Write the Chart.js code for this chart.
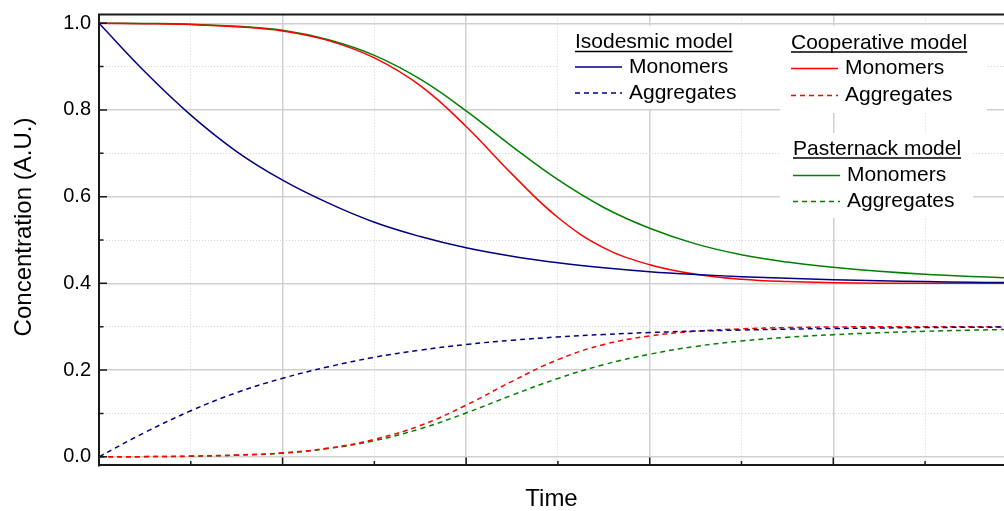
<!DOCTYPE html>
<html>
<head>
<meta charset="utf-8">
<title>Aggregation models</title>
<script src="https://cdn.jsdelivr.net/npm/chart.js@4/dist/chart.umd.min.js"></script>
<style>
  html, body { margin: 0; background: #fff; }
  #wrap { position: relative; width: 1004px; height: 511px; }
</style>
</head>
<body>
<div id="wrap"><canvas id="chart"></canvas></div>
<script>
const FONT = '"Liberation Sans", Arial, sans-serif';
const AXIS = "#1a1a1a";

// time axis (arbitrary units, one major grid step = 1)
const times = [0, 0.25, 0.5, 0.75, 1, 1.25, 1.5, 1.75, 2, 2.25, 2.5, 2.75, 3, 3.25, 3.5, 3.75, 4, 4.25, 4.5, 4.75, 4.93];

const isoMonomers    = [1.0, 0.888, 0.788, 0.704, 0.638, 0.585, 0.541, 0.508, 0.482, 0.4625, 0.4475, 0.436, 0.427, 0.4205, 0.4155, 0.4115, 0.4085, 0.406, 0.404, 0.4026, 0.4018];
const isoAggregates  = [0, 0.056, 0.106, 0.148, 0.181, 0.2075, 0.2295, 0.246, 0.259, 0.2688, 0.2763, 0.282, 0.2865, 0.2898, 0.2923, 0.2943, 0.2958, 0.297, 0.298, 0.2987, 0.2991];
const coopMonomers   = [1.0, 0.999, 0.997, 0.992, 0.982, 0.96, 0.92, 0.856, 0.762, 0.652, 0.552, 0.482, 0.443, 0.421, 0.4095, 0.404, 0.4015, 0.4005, 0.4, 0.4, 0.4];
const coopAggregates = [0, 0.0003, 0.0015, 0.004, 0.009, 0.02, 0.04, 0.072, 0.119, 0.174, 0.224, 0.259, 0.2785, 0.2895, 0.295, 0.298, 0.2993, 0.2998, 0.3, 0.3, 0.3];
const pastMonomers   = [1.0, 0.9995, 0.998, 0.993, 0.984, 0.962, 0.926, 0.871, 0.798, 0.716, 0.639, 0.575, 0.527, 0.491, 0.466, 0.449, 0.437, 0.428, 0.421, 0.416, 0.413];
const pastAggregates = [0, 0.0002, 0.001, 0.0035, 0.008, 0.019, 0.037, 0.0645, 0.101, 0.142, 0.1805, 0.2125, 0.2365, 0.2545, 0.267, 0.2755, 0.2815, 0.286, 0.2895, 0.292, 0.2935];

const yTickLabels = ["0.0", "0.2", "0.4", "0.6", "0.8", "1.0"];

const xy = (ys) => times.map((t, i) => ({ x: t, y: ys[i] }));
const series = (label, ys, color, dashed) => ({
  label, data: xy(ys), borderColor: color, borderWidth: 1.5,
  borderDash: dashed ? [5, 4] : [], pointRadius: 0,
  tension: 0.4, fill: false,
});

/* legend blocks: title, position, [dataset index, row centre y] */
const LEGEND = [
  { title: "Isodesmic model",   x: 575, base: 48,  rows: [[0, 67], [1, 93]] },
  { title: "Cooperative model", x: 791, base: 48.5, rows: [[2, 68.5], [3, 95.5]] },
  { title: "Pasternack model",  x: 793, base: 154.5, rows: [[4, 175.5], [5, 201.5]] },
];
const PANELS = [[558, 26, 222, 83], [780, 26, 207, 87], [780, 133, 193, 85]];

const isMajorY = (v) => Math.round(v * 10) % 2 === 0;
const isMajorX = (v) => Math.abs(v - Math.round(v)) < 1e-6;

const decor = {
  id: "decor",
  beforeDatasetsDraw(chart) {
    // white panels behind the legend hide the grid
    const ctx = chart.ctx;
    ctx.save();
    ctx.fillStyle = "#fff";
    for (const [x, y, w, h] of PANELS) ctx.fillRect(x, y, w, h);
    ctx.restore();
  },
  afterDraw(chart) {
    const ctx = chart.ctx, { left, right, top, bottom } = chart.chartArea;
    const xs = chart.scales.x, ys = chart.scales.y;
    ctx.save();

    // frame top + inward tick marks
    ctx.strokeStyle = AXIS;
    ctx.lineWidth = 2;
    ctx.beginPath(); ctx.moveTo(left - 1, top); ctx.lineTo(right, top); ctx.stroke();
    ctx.lineWidth = 1.5;
    ctx.beginPath();
    for (const t of ys.ticks) {
      const py = ys.getPixelForValue(t.value);
      ctx.moveTo(left, py); ctx.lineTo(left + (isMajorY(t.value) ? 8 : 4.5), py);
    }
    for (const t of xs.ticks) {
      if (t.value === 0) continue;
      const px = xs.getPixelForValue(t.value);
      ctx.moveTo(px, bottom); ctx.lineTo(px, bottom - (isMajorX(t.value) ? 8 : 4.5));
    }
    ctx.stroke();

    // y axis title
    ctx.fillStyle = "#000";
    ctx.font = `24px ${FONT}`;
    ctx.textAlign = "center"; ctx.textBaseline = "middle";
    ctx.translate(24, 227); ctx.rotate(-Math.PI / 2);
    ctx.fillText("Concentration (A.U.)", 0, 0);
    ctx.setTransform(1, 0, 0, 1, 0, 0);

    // grouped legend
    ctx.font = `21px ${FONT}`;
    ctx.textAlign = "left";
    for (const g of LEGEND) {
      ctx.textBaseline = "alphabetic";
      ctx.fillText(g.title, g.x, g.base);
      const w = ctx.measureText(g.title).width;
      ctx.lineWidth = 1.5; ctx.strokeStyle = "#000"; ctx.setLineDash([]);
      ctx.beginPath(); ctx.moveTo(g.x, g.base + 3.5); ctx.lineTo(g.x + w, g.base + 3.5); ctx.stroke();
      ctx.textBaseline = "middle";
      for (const [idx, cy] of g.rows) {
        const ds = chart.data.datasets[idx];
        ctx.strokeStyle = ds.borderColor; ctx.lineWidth = 1.5;
        ctx.setLineDash(ds.borderDash);
        ctx.beginPath(); ctx.moveTo(g.x, cy); ctx.lineTo(g.x + 47, cy); ctx.stroke();
        ctx.setLineDash([]);
        ctx.fillText(ds.label, g.x + 54, cy);
      }
    }
    ctx.restore();
  },
};

new Chart(document.getElementById("chart"), {
  type: "line",
  data: {
    datasets: [
      series("Monomers", isoMonomers, "#000080", false),
      series("Aggregates", isoAggregates, "#000080", true),
      series("Monomers", coopMonomers, "#ff0000", false),
      series("Aggregates", coopAggregates, "#ff0000", true),
      series("Monomers", pastMonomers, "#008000", false),
      series("Aggregates", pastAggregates, "#008000", true),
    ],
  },
  options: {
    responsive: true, maintainAspectRatio: false, animation: false,
    layout: { padding: { top: 14.6, right: 0, left: 0, bottom: 0 } },
    plugins: { legend: { display: false }, tooltip: { enabled: false } },
    scales: {
      x: {
        type: "linear", min: 0, max: 4.93,
        ticks: { display: false, stepSize: 0.5, includeBounds: false },
        grid: {
          drawTicks: false,
          color: (c) => isMajorX(c.tick.value) ? "#d0d0d0" : "#d4d4d4",
          lineWidth: (c) => isMajorX(c.tick.value) ? 1.5 : 1,
        },
        border: { color: AXIS, width: 2, dash: (c) => c.tick && !isMajorX(c.tick.value) ? [1, 2] : [] },
        title: { display: true, text: "Time", color: "#000", font: { family: FONT, size: 24, lineHeight: 1 }, padding: 0 },
        afterFit: (s) => { s.height = 45.6; },
      },
      y: {
        min: -0.02, max: 1.02,
        ticks: {
          stepSize: 0.1, includeBounds: false, padding: 8, color: "#000",
          font: { family: FONT, size: 20 },
          callback: (v) => isMajorY(v) ? yTickLabels[Math.round(v * 5)] : "",
        },
        grid: {
          drawTicks: false,
          color: (c) => isMajorY(c.tick.value) ? "#d0d0d0" : "#d4d4d4",
          lineWidth: (c) => isMajorY(c.tick.value) ? 1.5 : 1,
        },
        border: { color: AXIS, width: 2, dash: (c) => c.tick && !isMajorY(c.tick.value) ? [1, 2] : [] },
        afterFit: (s) => { s.width = 99; s.paddingTop = 0; s.paddingBottom = 0; },
      },
    },
  },
  plugins: [decor],
});
</script>
</body>
</html>
